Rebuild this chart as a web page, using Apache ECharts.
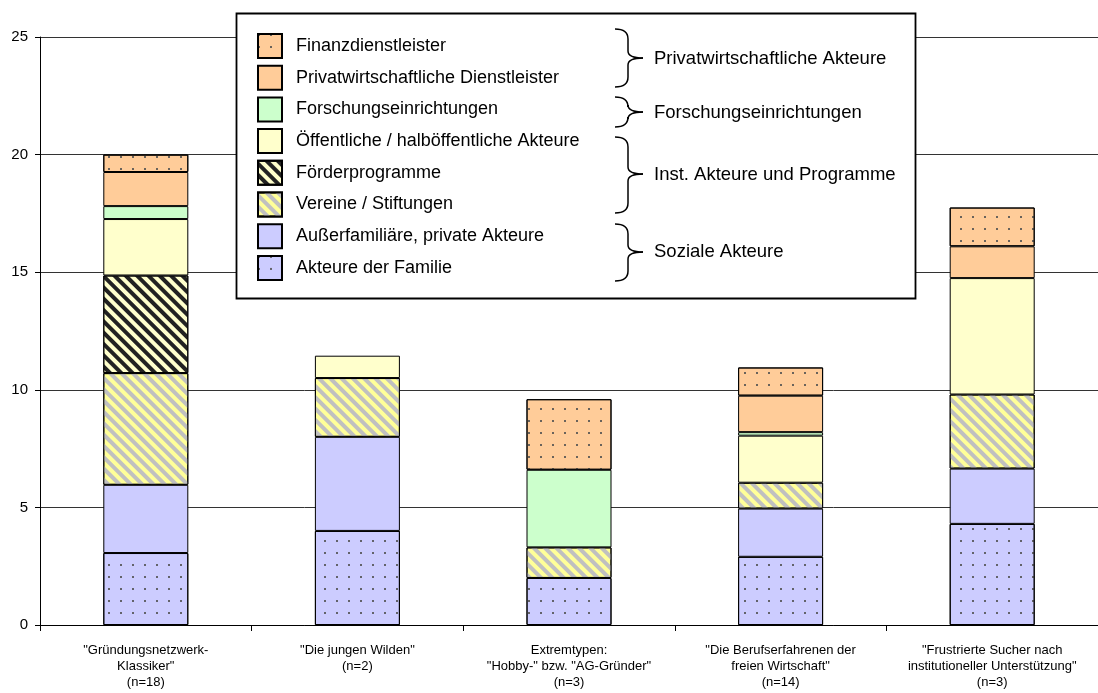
<!DOCTYPE html>
<html>
<head>
<meta charset="utf-8">
<script src="https://cdn.jsdelivr.net/npm/echarts@6/dist/echarts.min.js"></script>
<style>
html,body{margin:0;padding:0;background:#fff;}
#c{width:1098px;height:693px;}
</style>
</head>
<body>
<div id="c"></div>
<script>
// ---- data ----
const categories = [
  '"Gründungsnetzwerk-\nKlassiker"\n(n=18)',
  '"Die jungen Wilden"\n(n=2)',
  'Extremtypen:\n"Hobby-" bzw. "AG-Gründer"\n(n=3)',
  '"Die Berufserfahrenen der\nfreien Wirtschaft"\n(n=14)',
  '"Frustrierte Sucher nach\ninstitutioneller Unterstützung"\n(n=3)'
];
const familie      = [3.06, 4.0, 2.0, 2.9, 4.3];
const ausserfam    = [2.9, 4.0, null, 2.05, 2.35];
const vereine      = [4.75, 2.5, 1.3, 1.1, 3.15];
const foerder      = [4.15, null, null, null, null];
const oeffentlich  = [2.4, 0.95, null, 2.0, 4.95];
const forschung    = [0.55, null, 3.3, 0.15, null];
const privatDL     = [1.45, null, null, 1.55, 1.35];
const finanz       = [0.74, null, 3.0, 1.2, 1.65];
const yTicks = [0, 5, 10, 15, 20, 25];

const groupLabels = ['Privatwirtschaftliche Akteure', 'Forschungseinrichtungen', 'Inst. Akteure und Programme', 'Soziale Akteure'];

const FONT = '"Liberation Sans", Arial, sans-serif';

const dots = {symbol:'rect', symbolSize:1, dashArrayX:[1.6, 9.4], dashArrayY:[1.6, 9.4], color:'rgba(80,80,80,0.85)'};
function stripes(col){
  return {symbol:'rect', symbolSize:1, rotation: Math.PI/4, dashArrayX:[1,0], dashArrayY:[3.2, 3.6], color: col};
}

function mk(name, data, color, decal){
  const it = {color: color, borderColor:'#000', borderWidth:1};
  if (decal) it.decal = decal;
  return {name, type:'bar', stack:'total', data, barWidth:85, itemStyle: it, emphasis:{disabled:true}};
}

const series = [
  mk('Akteure der Familie', familie, '#CCCCFF', dots),
  mk('Außerfamiliäre, private Akteure', ausserfam, '#CCCCFF'),
  mk('Vereine / Stiftungen', vereine, '#FFFF99', stripes('#C0C0C0')),
  mk('Förderprogramme', foerder, '#FFFFCC', stripes('#222')),
  mk('Öffentliche / halböffentliche Akteure', oeffentlich, '#FFFFCC'),
  mk('Forschungseinrichtungen', forschung, '#CCFFCC'),
  mk('Privatwirtschaftliche Dienstleister', privatDL, '#FFCC99'),
  mk('Finanzdienstleister', finanz, '#FFCC99', dots)
];

const bstyle = {fill:'none', stroke:'#000', lineWidth:1.5};
function bz(x1,y1,cx,cy,x2,y2){ return {type:'bezierCurve', z:6, shape:{x1,y1,cpx1:cx,cpy1:cy,x2,y2}, style:bstyle}; }
function ln(x1,y1,x2,y2){ return {type:'line', z:6, shape:{x1,y1,x2,y2}, style:bstyle}; }
function brace(y0, ym, y1){
  return [
    bz(615,y0, 628,y0, 628,y0+10),
    ln(628,y0+10, 628,ym-7),
    bz(628,ym-7, 628,ym, 643,ym),
    bz(643,ym, 628,ym, 628,ym+7),
    ln(628,ym+7, 628,y1-10),
    bz(628,y1-10, 628,y1, 615,y1)
  ];
}
function glabel(txt, y){
  return {type:'text', z:6, x:654, y:y, style:{text:txt, font:`18.5px ${FONT}`, fill:'#000', verticalAlign:'middle', align:'left'}};
}

const chart = echarts.init(document.getElementById('c'), null, {renderer:'canvas'});
chart.setOption({
  animation:false,
  backgroundColor:'#fff',
  grid:{left:40, top:37, width:1061, height:588},
  xAxis:{type:'category', data:categories,
    axisLine:{lineStyle:{color:'#000', width:1}},
    axisTick:{show:true, length:6, lineStyle:{color:'#000'}},
    axisLabel:{interval:0, color:'#000', fontFamily:FONT, fontSize:13, lineHeight:16, margin:17}
  },
  yAxis:{type:'value', min:yTicks[0], max:yTicks[yTicks.length-1], interval:5,
    axisLine:{show:true, lineStyle:{color:'#000', width:1}},
    axisTick:{show:true, length:5, lineStyle:{color:'#000'}},
    splitLine:{show:true, lineStyle:{color:'#333', width:1}},
    axisLabel:{color:'#000', fontFamily:FONT, fontSize:15, margin:12}
  },
  legend:{
    z:5, orient:'vertical', left:257, top:33, padding:0, itemWidth:24, itemHeight:24, itemGap:5.7,
    icon:'rect', selectedMode:false,
    data:['Finanzdienstleister','Privatwirtschaftliche Dienstleister','Forschungseinrichtungen','Öffentliche / halböffentliche Akteure','Förderprogramme','Vereine / Stiftungen','Außerfamiliäre, private Akteure','Akteure der Familie'],
    textStyle:{color:'#000', fontFamily:FONT, fontSize:18, lineHeight:24, padding:[0,0,0,9]}
  },
  graphic:[
    {type:'rect', z:3, shape:{x:236.5, y:13.5, width:679, height:285}, style:{fill:'#fff', stroke:'#000', lineWidth:1.8}}
  ].concat(brace(29, 58, 87), brace(97, 112, 127), brace(137, 174, 213), brace(224, 252, 281), [
    glabel(groupLabels[0], 59), glabel(groupLabels[1], 113), glabel(groupLabels[2], 175), glabel(groupLabels[3], 252)
  ]),
  series: series
});
</script>
</body>
</html>
